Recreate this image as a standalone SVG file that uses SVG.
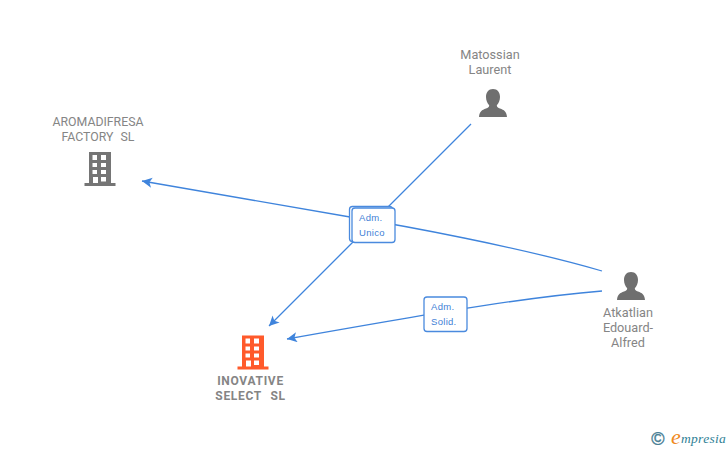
<svg xmlns="http://www.w3.org/2000/svg" width="728" height="450" viewBox="0 0 728 450">
<style>
.lbl{font-family:Roboto,"Liberation Sans",sans-serif;font-size:12.700px;fill:#858585;text-anchor:middle}
.co{font-size:12.300px}
.b{font-size:12px;font-weight:700;letter-spacing:.7px}
.edge{fill:none;stroke:#3f84dc;stroke-width:1.300}
.box{fill:#fff;stroke:#4a8ade;stroke-width:1.300}
.bt{font-family:"Liberation Sans",Roboto,sans-serif;font-size:9.500px;fill:#3f7fd6;letter-spacing:.3px}
</style>
<defs>
<marker id="arr" markerWidth="11" markerHeight="11" refX="10" refY="5" orient="auto" markerUnits="userSpaceOnUse"><path d="M10 5L0 0L2.500 5L0 10Z" fill="#3f84dc"/></marker>
<symbol id="bld" viewBox="0 0 32 34" overflow="visible">
<path fill-rule="evenodd" d="M5 0H27V31H31.500V34H.5V31H5ZM8.500 3V8H13V3ZM17 3V8H22V3ZM8.500 11V15H13V11ZM17 11V15H22V11ZM8.500 18V22H13V18ZM17 18V22H22V18ZM9 25V31H14V25ZM17 25V29.500H22V25Z"/>
</symbol>
<symbol id="per" viewBox="0 0 30 30">
<path d="M15 1C19.500 1 22 4.500 22 9C22 12.500 20.500 15.500 18.800 17.200C18.800 19 20 19.800 22 20.600C26 22 28.500 23.500 29 29H1C1.500 23.500 4 22 8 20.600C10 19.800 11.200 19 11.200 17.200C9.500 15.500 8 12.500 8 9C8 4.500 10.500 1 15 1Z"/>
</symbol>
</defs>
<rect width="728" height="450" fill="#fff"/>
<g id="connectors">
<path class="edge" marker-end="url(#arr)" d="M471 124L269 326"/>
<path class="edge" marker-end="url(#arr)" d="M602 271C520 247 400 225 350 217L142 181"/>
<path class="edge" marker-end="url(#arr)" d="M602 291C530 297 450 310 287 339"/>
</g>
<g id="label-adm-unico">
<rect class="box" x="349.500" y="206.500" width="43" height="35" rx="3"/>
<rect class="box" x="352" y="208" width="43" height="34.500" rx="3"/>
<text class="bt" x="359" y="221">Adm.</text>
<text class="bt" x="359" y="236">Unico</text>
</g>
<g id="label-adm-solid">
<rect class="box" x="424" y="297" width="43" height="34.500" rx="3"/>
<text class="bt" x="431" y="310">Adm.</text>
<text class="bt" x="431" y="325">Solid.</text>
</g>
<g id="node-aromadifresa">
<text class="lbl co" x="98" y="126">AROMADIFRESA</text>
<text class="lbl co" x="98" y="141">FACTORY  <tspan dx="4">SL</tspan></text>
<use href="#bld" x="84" y="152" width="32" height="34" fill="#757575"/>
</g>
<g id="node-inovative">
<use href="#bld" x="237" y="335" width="32" height="35" fill="#ff5a2b"/>
<text class="lbl b" x="250.500" y="385">INOVATIVE</text>
<text class="lbl b" x="250.500" y="400">SELECT  <tspan dx="5">SL</tspan></text>
</g>
<g id="node-matossian">
<text class="lbl" x="490" y="59">Matossian</text>
<text class="lbl" x="490" y="74">Laurent</text>
<use href="#per" x="478" y="88" width="30" height="30" fill="#6f6f6f"/>
</g>
<g id="node-atkatlian">
<use href="#per" x="616" y="271" width="30" height="30" fill="#6f6f6f"/>
<text class="lbl" x="628" y="317">Atkatlian</text>
<text class="lbl" x="628" y="332">Edouard-</text>
<text class="lbl" x="628" y="347">Alfred</text>
</g>
<g id="logo">
<text x="658" y="445" text-anchor="middle" font-family="'Liberation Sans',sans-serif" font-size="18" stroke="#4a7f96" stroke-width=".4" fill="#4a7f96">©</text>
<text x="671" y="444" font-family="'Liberation Serif',serif" font-style="italic" font-size="22" fill="#f08a1d">e</text>
<text x="681" y="443" font-family="'Liberation Serif',serif" font-style="italic" font-size="13.500" letter-spacing=".3" fill="#2f7f95">mpresia</text>
</g>
</svg>
